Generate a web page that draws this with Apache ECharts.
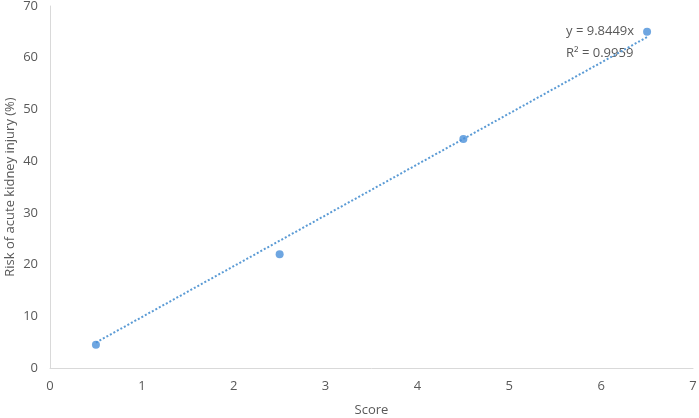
<!DOCTYPE html>
<html>
<head>
<meta charset="utf-8">
<script src="https://cdn.jsdelivr.net/npm/echarts@6/dist/echarts.min.js"></script>
<style>
  html, body { margin: 0; padding: 0; background: #fff; }
  #chart { width: 699px; height: 418px; }
</style>
</head>
<body>
<div id="chart"></div>
<script>
// measured points
var scoreX = [0.5, 2.5, 4.5, 6.5];
var riskY = [4.5, 22, 44.3, 65];
// trendline through origin, as printed on the chart
var slope = 9.8449;
var rSquared = 0.9959;
var trendX = [0.5, 6.5];

var chart = echarts.init(document.getElementById('chart'));
var font = '"Open Sans", "Noto Sans", sans-serif';
var gray = '#595959';

var points = scoreX.map(function (x, i) { return [x, riskY[i]]; });
var trend = trendX.map(function (x) { return [x, slope * x]; });

var option = {
    animation: false,
    textStyle: { fontFamily: font },
    grid: { left: 50, right: 6, top: 6, bottom: 50, containLabel: false, outerBoundsMode: 'none' },
    xAxis: {
        type: 'value',
        min: 0, max: 7, interval: 1,
        name: 'Score',
        nameLocation: 'middle',
        nameGap: 36,
        nameMoveOverlap: false,
        nameTextStyle: { color: gray, fontSize: 13, fontFamily: font },
        axisLine: { show: true, lineStyle: { color: '#d9d9d9', width: 1 } },
        axisTick: { show: false },
        splitLine: { show: false },
        axisLabel: { color: gray, fontSize: 13, margin: 12, fontFamily: font }
    },
    yAxis: {
        type: 'value',
        min: 0, max: 70, interval: 10,
        name: 'Risk of acute kidney injury (%)',
        nameLocation: 'middle',
        nameGap: 33,
        nameMoveOverlap: false,
        nameTextStyle: { color: gray, fontSize: 13, fontFamily: font },
        axisLine: { show: true, lineStyle: { color: '#d9d9d9', width: 1 } },
        axisTick: { show: false },
        splitLine: { show: false },
        axisLabel: { color: gray, fontSize: 13, margin: 12, fontFamily: font }
    },
    graphic: [
        {
            type: 'text', left: 566, top: 25,
            style: { text: 'y = ' + slope + 'x', fill: gray, font: '13px ' + font }
        },
        {
            type: 'text', left: 566, top: 47,
            style: { text: 'R² = ' + rSquared, fill: gray, font: '13px ' + font }
        }
    ],
    series: [
        {
            type: 'line',
            data: trend,
            symbol: 'none',
            silent: true,
            lineStyle: { color: '#5b9bd5', width: 2, type: [2, 2] },
            z: 1
        },
        {
            type: 'scatter',
            data: points,
            symbolSize: 8,
            itemStyle: { color: '#4a90d9' },
            z: 2
        }
    ]
};
chart.setOption(option);
</script>
</body>
</html>
